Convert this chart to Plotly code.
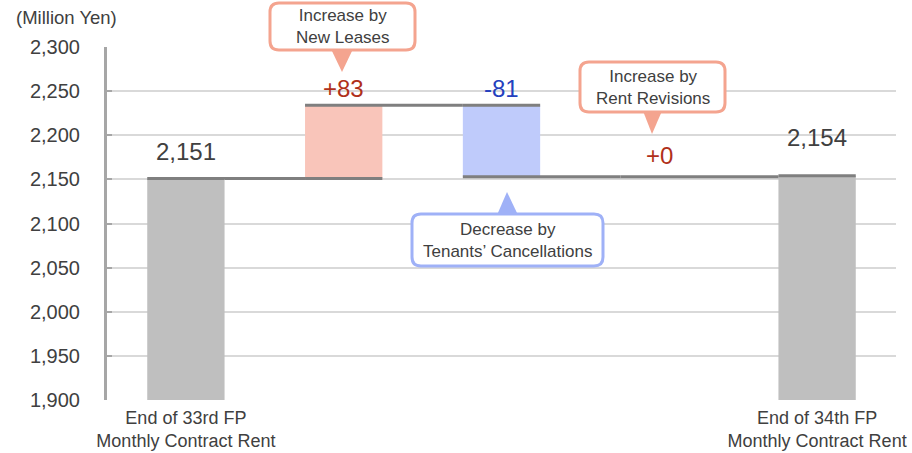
import plotly.graph_objects as go

# ---- data ----
categories = ["End of 33rd FP", "New Leases", "Tenants' Cancellations", "Rent Revisions", "End of 34th FP"]
tick_labels = ["End of 33rd FP<br>Monthly Contract Rent", "", "", "", "End of 34th FP<br>Monthly Contract Rent"]
values = [2151, 83, -81, 0, 2154]
measures = ["absolute", "relative", "relative", "relative", "absolute"]
value_labels = ["2,151", "+83", "-81", "+0", "2,154"]
y_ticks = [1900, 1950, 2000, 2050, 2100, 2150, 2200, 2250, 2300]
callout_texts = ["Increase by<br>New Leases", "Decrease by<br>Tenants’ Cancellations", "Increase by<br>Rent Revisions"]

# ---- geometry (pixels) ----
W, H = 912, 453
L, R, T, B = 107, 16, 47, 53
PW, PH = W - L - R, H - T - B
YMIN, YMAX = 1900, 2300

FONT = "Liberation Sans, Arial, sans-serif"
TXT = "#404040"
RED = "#B0301A"
BLUE = "#2440BE"
SALMON = "#F4A48F"
LBLUE = "#9FB1F7"

def px2paper(px, py):
    return (px - L) / PW, (H - B - py) / PH

fig = go.Figure()
fig.add_trace(go.Waterfall(
    x=categories, y=values, measure=measures,
    increasing=dict(marker=dict(color="#F9C5BA")),
    decreasing=dict(marker=dict(color="#BFCBFB")),
    totals=dict(marker=dict(color="#BFBFBF")),
    connector=dict(mode="spanning", line=dict(color="#7F7F7F", width=3)),
    width=0.49, textinfo="none", hoverinfo="skip", showlegend=False,
))

# running levels for labels
levels = []
run = 0
for v, m in zip(values, measures):
    if m == "absolute":
        run = v
        levels.append(v)
    else:
        levels.append(max(run, run + v))
        run += v
shifts = [11, 1, 1, 6, 23]
colors = [TXT, RED, BLUE, RED, TXT]
for c, lv, lab, s, col in zip(categories, levels, value_labels, shifts, colors):
    fig.add_annotation(x=c, y=lv, text=lab, showarrow=False, yanchor="bottom",
                       yshift=s, font=dict(size=24, color=col, family=FONT))

# ---- callouts ----
def _p(x, y):
    a, b = px2paper(x, y)
    return f"{a:.5f},{b:.5f}"

def rounded_box(x0, y0, x1, y1, r=9):
    return (f"M {_p(x0 + r, y0)} L {_p(x1 - r, y0)} Q {_p(x1, y0)} {_p(x1, y0 + r)} "
            f"L {_p(x1, y1 - r)} Q {_p(x1, y1)} {_p(x1 - r, y1)} "
            f"L {_p(x0 + r, y1)} Q {_p(x0, y1)} {_p(x0, y1 - r)} "
            f"L {_p(x0, y0 + r)} Q {_p(x0, y0)} {_p(x0 + r, y0)} Z")

def tri(ax, ay, bx0, bx1, by):
    return f"M {_p(bx0, by)} L {_p(ax, ay)} L {_p(bx1, by)} Z"

callouts = [
    ((270, 3, 415, 50), (342, 72, 331, 353, 49), SALMON),
    ((412, 214, 603, 266), (507, 192, 497, 518, 215), LBLUE),
    ((580, 62, 725, 112), (652, 134, 643, 662, 111), SALMON),
]
for (bx, tr, col), text in zip(callouts, callout_texts):
    fig.add_shape(type="path", path=tri(*tr), xref="paper", yref="paper",
                  fillcolor=col, line=dict(width=0), layer="above")
    fig.add_shape(type="path", path=rounded_box(*bx), xref="paper", yref="paper",
                  fillcolor="white", line=dict(color=col, width=3), layer="above")
    cx, cy = px2paper((bx[0] + bx[2]) / 2, (bx[1] + bx[3]) / 2)
    fig.add_annotation(x=cx, y=cy, xref="paper", yref="paper", text=text, showarrow=False,
                       font=dict(size=17, color=TXT, family=FONT), xanchor="center", yanchor="middle")

# axis title
fig.add_annotation(x=(14 - L) / PW, y=px2paper(0, 18)[1], xref="paper", yref="paper",
                   text="(Million Yen)", showarrow=False, xanchor="left", yanchor="middle",
                   font=dict(size=18.5, color=TXT, family=FONT))

fig.update_layout(
    width=W, height=H, margin=dict(l=L, r=R, t=T, b=B, autoexpand=False),
    paper_bgcolor="white", plot_bgcolor="white",
    font=dict(family=FONT, color=TXT),
    xaxis=dict(type="category", tickvals=categories, ticktext=tick_labels,
               tickfont=dict(size=18, color=TXT), showgrid=False, zeroline=False,
               showline=False, ticks="", ticklabelstandoff=5, automargin=False),
    yaxis=dict(range=[YMIN, YMAX], tickvals=y_ticks,
               ticktext=[f"{v:,}" for v in y_ticks],
               tickfont=dict(size=20, color=TXT), showgrid=True, gridcolor="#D9D9D9",
               gridwidth=2, zeroline=False, showline=True, linecolor="#A6A6A6", linewidth=3,
               ticks="inside", ticklen=5, tickcolor="#A6A6A6", tickwidth=2,
               ticklabelstandoff=20, automargin=False),
)

fig.write_html("out.html")
